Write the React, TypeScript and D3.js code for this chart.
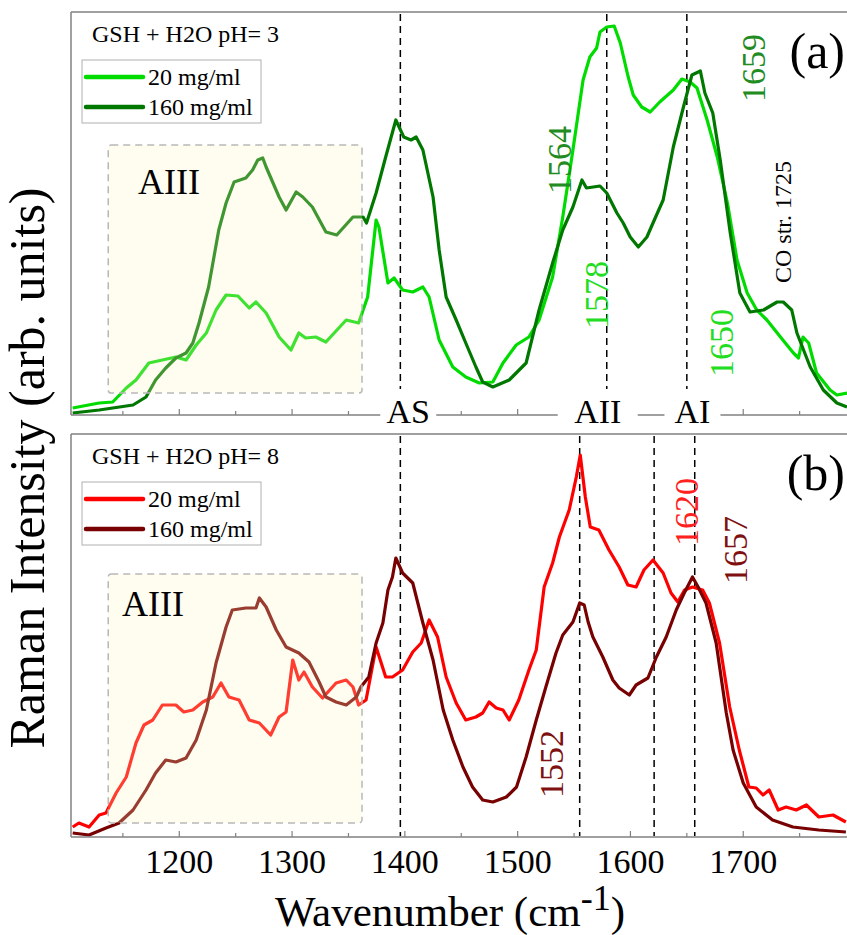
import React from "react";
import * as d3 from "d3";

type Pt = [number, number];

// wavenumber (cm-1), intensity (arb. units)
const pH3_20mg: Pt[] = [[1105.5,7],[1129,12],[1141,13],[1153,27],[1161.6,35],[1173,52],[1185,55],[1197,58],[1206,55],[1215,70],[1224,82],[1232.6,105],[1241.5,120],[1252,119],[1262,107],[1268,113],[1277,102],[1288.5,78],[1299,65],[1306,82],[1312,77],[1321,78],[1330,73],[1348,95],[1359,92],[1367,118],[1374.5,195],[1377,188],[1385,132],[1390.5,137],[1398,125],[1407,123],[1416,128],[1421.5,118],[1430.4,75],[1442.5,48],[1454,38],[1466,32],[1478,33],[1487,52],[1498.7,70],[1510,78],[1519,95],[1531,138],[1540,198],[1549,265],[1558,335],[1564,358],[1570,367],[1573,383],[1579,388],[1585.6,389],[1591,372],[1598,338],[1602.5,320],[1610,308],[1617.5,303],[1626,313],[1638,325],[1645.6,336],[1653,333],[1659,327],[1668,295],[1677,258],[1686,212],[1694.5,155],[1703.5,122],[1712,105],[1721,95],[1733,78],[1744.5,62],[1749,57],[1753,78],[1758,72],[1765,42],[1777,25],[1783,20],[1792,22]];

const pH3_160mg: Pt[] = [[1105.5,2],[1129,5],[1159,10],[1170.5,18],[1179,35],[1188,47],[1197,57],[1206,62],[1212,72],[1217.5,92],[1226,128],[1235,185],[1241.5,212],[1248.6,233],[1259,237],[1265,245],[1269.6,255],[1274,257],[1277,248],[1288.5,218],[1294.7,205],[1303.6,223],[1309.5,218],[1318,208],[1330,183],[1339.6,180],[1354,198],[1363,198],[1366,192],[1374.5,222],[1383,258],[1392,295],[1399,278],[1405.5,275],[1410,278],[1416,265],[1425,218],[1430.4,165],[1436.6,118],[1445.5,95],[1454,72],[1463,48],[1469,33],[1478,28],[1492.5,35],[1507.5,52],[1519,105],[1531,152],[1540,185],[1549,208],[1557,235],[1561,227],[1573,229],[1579,222],[1588,202],[1593.6,192],[1599.8,178],[1607,168],[1614.6,178],[1620,192],[1629,215],[1638,268],[1647,308],[1654.5,340],[1662,344],[1666,322],[1673,302],[1679.6,255],[1688.5,182],[1697,122],[1706,103],[1718,105],[1730,113],[1735.5,113],[1743,105],[1747.6,82],[1759.4,48],[1771,25],[1783,12],[1792,8]];

const pH8_20mg: Pt[] = [[1105.5,10],[1111,14],[1120,10],[1129,22],[1135,24],[1144,44],[1153,60],[1161.6,94],[1168.7,112],[1176.5,117],[1185,132],[1197,132],[1204,125],[1212,127],[1220.8,135],[1229.7,140],[1237,154],[1244,140],[1253,137],[1262,117],[1271,114],[1281,102],[1288.5,120],[1294.7,125],[1300.6,177],[1306,157],[1310.6,165],[1318,150],[1327,139],[1339,154],[1348,157],[1354,150],[1359,132],[1365.6,137],[1374.5,190],[1383,160],[1389,160],[1398,167],[1407,185],[1414.5,194],[1421.5,217],[1429,200],[1436.6,160],[1445.5,134],[1454,117],[1463,120],[1469,124],[1474.7,135],[1481,129],[1487,127],[1492.5,117],[1501,137],[1510,167],[1516.5,187],[1523.5,250],[1531,274],[1537,300],[1545.7,327],[1552,360],[1555.5,382],[1560,340],[1564.4,310],[1572,307],[1581,287],[1590,270],[1597.7,252],[1605,250],[1612,267],[1620,277],[1629,264],[1636,244],[1642,235],[1648,247],[1655,250],[1664,247],[1670,234],[1679,194],[1688,130],[1696.5,87],[1705,50],[1711.5,49],[1717.5,42],[1723,47],[1731,27],[1738,30],[1747,27],[1756,32],[1767,20],[1779.6,22],[1791,15]];

const pH8_160mg: Pt[] = [[1105.5,4],[1120,2],[1135,9],[1146.6,14],[1159,27],[1170.5,47],[1179,64],[1188,77],[1197,75],[1206,79],[1215,97],[1224,127],[1232.6,174],[1241.5,210],[1247,227],[1259,229],[1268,229],[1271,239],[1277,230],[1286,207],[1294.7,190],[1306,184],[1315,175],[1324,155],[1330,140],[1339,135],[1348,132],[1357,140],[1361,150],[1368,160],[1374.5,194],[1380.5,214],[1385,247],[1389,260],[1392,279],[1398,264],[1407,254],[1416,214],[1425,177],[1434,127],[1442.5,97],[1451.5,70],[1460,50],[1469,37],[1478,35],[1490,40],[1499,50],[1507.5,80],[1516.5,117],[1525,150],[1534,184],[1540,202],[1549,215],[1555,234],[1559,232],[1562.5,215],[1566.7,200],[1575.5,180],[1584.4,157],[1590,149],[1599,142],[1605,152],[1615.5,159],[1623,180],[1631.7,200],[1640.6,227],[1647.7,244],[1655,260],[1660,250],[1667,234],[1676,194],[1685,124],[1691,87],[1700,54],[1711.5,30],[1726,17],[1744,10],[1767,7],[1791,5]];

const xTickLabels = [1200, 1300, 1400, 1500, 1600, 1700];
const xMinorTicks = [1150, 1250, 1350, 1450, 1550, 1650, 1750];

const dashedTop = [1396, 1579, 1650];
const dashedBottom = [1396, 1555, 1621, 1657];

const bandLabels: { text: string; wn: number }[] = [
  { text: "AS", wn: 1403 },
  { text: "AII", wn: 1571 },
  { text: "AI", wn: 1655 },
];

const aiiiRange = [1137, 1362];

const seriesNames = ["20 mg/ml", "160 mg/ml"];
const panelTitles = ["GSH + H2O pH= 3", "GSH + H2O pH= 8"];
const panelTags = ["(a)", "(b)"];

type Ann = { text: string; wn: number; y: number; color: string; size: number };
const annTop: Ann[] = [
  { text: "1564", wn: 1547, y: 255, color: "#228b22", size: 34 },
  { text: "1659", wn: 1719, y: 347, color: "#228b22", size: 34 },
  { text: "1578", wn: 1580, y: 120, color: "#22dd22", size: 34 },
  { text: "1650", wn: 1691, y: 72, color: "#22dd22", size: 34 },
  { text: "CO str. 1725", wn: 1742, y: 193, color: "#000000", size: 24 },
];
const annBottom: Ann[] = [
  { text: "1620", wn: 1660, y: 325, color: "#ff2020", size: 34 },
  { text: "1657", wn: 1703, y: 287, color: "#7f1010", size: 34 },
  { text: "1552", wn: 1540, y: 73, color: "#7f1010", size: 34 },
];

const FONT = "'Liberation Serif', 'DejaVu Serif', 'Times New Roman', serif";
const W = 847;
const H = 935;
const LEFT = 71;
const RIGHT = 847;

const x = d3.scaleLinear().domain([1104, 1792]).range([LEFT, RIGHT]);

function Panel(props: {
  top: number;
  bottom: number;
  light: Pt[];
  dark: Pt[];
  lightColor: string;
  darkColor: string;
  title: string;
  tag: string;
  tagBaseline: number;
  dashed: number[];
  dashEnd: number;
  anns: Ann[];
  box: [number, number];
  aiiiX: number;
  aiiiY: number;
}) {
  const { top, bottom } = props;
  const y = d3.scaleLinear().domain([0, 403]).range([bottom, top]);
  const line = d3
    .line<Pt>()
    .x((d) => x(d[0]))
    .y((d) => y(d[1]))
    .curve(d3.curveLinear);
  const clipId = "clip" + top;
  return (
    <g>
      <defs>
        <clipPath id={clipId}>
          <rect x={LEFT} y={top} width={RIGHT - LEFT + 2} height={bottom - top} />
        </clipPath>
      </defs>
      {props.dashed.map((d, i) => (
        <line
          key={i}
          x1={x(d)}
          x2={x(d)}
          y1={top + 2}
          y2={props.dashEnd}
          stroke="#000"
          strokeWidth={1.5}
          strokeDasharray="7,5"
        />
      ))}
      <g clipPath={`url(#${clipId})`}>
        <path d={line(props.light) || ""} fill="none" stroke={props.lightColor} strokeWidth={3.2} strokeLinejoin="round" />
        <path d={line(props.dark) || ""} fill="none" stroke={props.darkColor} strokeWidth={3.2} strokeLinejoin="round" />
      </g>
      <rect
        x={x(aiiiRange[0])}
        y={props.box[0]}
        width={x(aiiiRange[1]) - x(aiiiRange[0])}
        height={props.box[1] - props.box[0]}
        rx={3}
        fill="rgb(255,243,195)"
        fillOpacity={0.25}
        stroke="#b8b8b8"
        strokeWidth={1.5}
        strokeDasharray="7,5"
      />
      <text x={props.aiiiX} y={props.aiiiY} fontSize={36} fill="#000">
        AIII
      </text>
      <line x1={LEFT} x2={RIGHT} y1={top} y2={top} stroke="#808080" strokeWidth={1.5} />
      <line x1={LEFT} x2={RIGHT} y1={bottom} y2={bottom} stroke="#808080" strokeWidth={1.5} />
      <line x1={LEFT} x2={LEFT} y1={top} y2={bottom} stroke="#808080" strokeWidth={1.5} />
      {xTickLabels.map((t) => (
        <line key={"M" + t} x1={x(t)} x2={x(t)} y1={bottom} y2={bottom - 6} stroke="#808080" strokeWidth={1.2} />
      ))}
      {xMinorTicks.map((t) => (
        <line key={"m" + t} x1={x(t)} x2={x(t)} y1={bottom} y2={bottom - 4} stroke="#808080" strokeWidth={1.2} />
      ))}
      <text x={92} y={top + 30} fontSize={24} fill="#000">
        {props.title}
      </text>
      <rect x={82} y={top + 48} width={179} height={63} fill="#fff" stroke="#b0b0b0" strokeWidth={1} />
      <line x1={86} x2={143} y1={top + 65} y2={top + 65} stroke={props.lightColor} strokeWidth={4.5} strokeLinecap="round" />
      <line x1={86} x2={143} y1={top + 95} y2={top + 95} stroke={props.darkColor} strokeWidth={4.5} strokeLinecap="round" />
      <text x={148} y={top + 73} fontSize={24} fill="#000">
        {seriesNames[0]}
      </text>
      <text x={148} y={top + 103} fontSize={24} fill="#000">
        {seriesNames[1]}
      </text>
      <text x={845} y={props.tagBaseline} textAnchor="end" fontSize={50} fill="#000">
        {props.tag}
      </text>
      {props.anns.map((a, i) => (
        <text
          key={i}
          transform={`translate(${x(a.wn)},${y(a.y)}) rotate(-90)`}
          textAnchor="middle"
          fontSize={a.size}
          fill={a.color}
        >
          {a.text}
        </text>
      ))}
    </g>
  );
}

export default function App() {
  return (
    <svg
      width={W}
      height={H}
      style={{ position: "absolute", left: 0, top: 0, background: "#fff", fontFamily: FONT }}
    >
      <rect x={0} y={0} width={W} height={H} fill="#fff" />
      <Panel
        top={12}
        bottom={415}
        light={pH3_20mg}
        dark={pH3_160mg}
        lightColor="#00dc00"
        darkColor="#007800"
        title={panelTitles[0]}
        tag={panelTags[0]}
        tagBaseline={68}
        dashed={dashedTop}
        dashEnd={389}
        anns={annTop}
        box={[145, 393]}
        aiiiX={138}
        aiiiY={194}
      />
      <Panel
        top={434}
        bottom={837}
        light={pH8_20mg}
        dark={pH8_160mg}
        lightColor="#ff0000"
        darkColor="#780000"
        title={panelTitles[1]}
        tag={panelTags[1]}
        tagBaseline={490}
        dashed={dashedBottom}
        dashEnd={836}
        anns={annBottom}
        box={[574, 823]}
        aiiiX={122}
        aiiiY={616}
      />
      {bandLabels.map((b) => (
        <g key={b.text}>
          <rect x={x(b.wn) - (b.text.length * 12 + 4)} y={403} width={b.text.length * 24 + 8} height={24} fill="#fff" />
          <text x={x(b.wn)} y={423} textAnchor="middle" fontSize={34} fill="#000">
            {b.text}
          </text>
        </g>
      ))}
      {xTickLabels.map((t) => (
        <text key={t} x={x(t)} y={873} textAnchor="middle" fontSize={34} fill="#000">
          {t}
        </text>
      ))}
      <text x={450} y={926} textAnchor="middle" fontSize={43} fill="#000">
        <tspan>Wavenumber (cm</tspan>
        <tspan dy={-16} fontSize={36}>-1</tspan>
        <tspan dy={16}>)</tspan>
      </text>
      <text
        transform="translate(44,468) rotate(-90)"
        textAnchor="middle"
        fontSize={50}
        fill="#000"
      >
        Raman Intensity (arb. units)
      </text>
    </svg>
  );
}
